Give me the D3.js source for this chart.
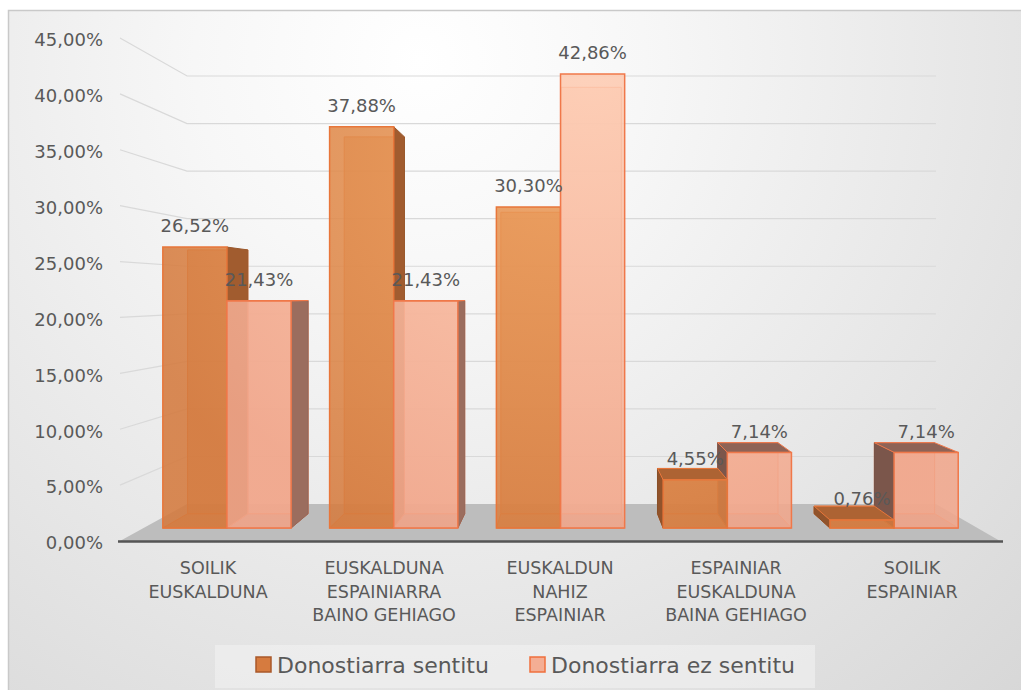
<!DOCTYPE html>
<html>
<head>
<meta charset="utf-8">
<script src="https://cdn.jsdelivr.net/npm/d3@7"></script>
<style>
body { margin: 0; background: #fff; }
text { font-family: "DejaVu Sans", sans-serif; fill: #595959; }
</style>
</head>
<body>
<div id="chart"></div>
<script>

const categoryLines = [
    ["SOILIK", "EUSKALDUNA"],
    ["EUSKALDUNA", "ESPAINIARRA", "BAINO GEHIAGO"],
    ["EUSKALDUN", "NAHIZ", "ESPAINIAR"],
    ["ESPAINIAR", "EUSKALDUNA", "BAINA GEHIAGO"],
    ["SOILIK", "ESPAINIAR"]
];
const categories = categoryLines.map(d => d.join(' '));
const seriesNames = ["Donostiarra sentitu", "Donostiarra ez sentitu"];
const sentitu = [26.52, 37.88, 30.30, 4.55, 0.76];
const ezSentitu = [21.43, 21.43, 42.86, 7.14, 7.14];
const yTicks = [0, 5, 10, 15, 20, 25, 30, 35, 40, 45];

const W = 1021, H = 690;

// fake 3d: vanishing point + depth scale factors
const vp = [570, 293];
const sWall = 0.851, sFront = 0.9476, sBack = 0.89;
function P(X, Y, s) { return [vp[0] + (X - vp[0]) * s, vp[1] + (Y - vp[1]) * s]; }

const pct = v => d3.format(".2f")(v).replace('.', ',') + '%';

const svg = d3.select('#chart')
    .append('svg')
    .attr('width', W)
    .attr('height', H);

const defs = svg.append('defs');

const bg = defs.append('radialGradient').attr('id', 'bg')
    .attr('gradientUnits', 'userSpaceOnUse')
    .attr('cx', 420).attr('cy', 60).attr('r', 900);
bg.append('stop').attr('offset', 0).attr('stop-color', '#ffffff');
bg.append('stop').attr('offset', 0.25).attr('stop-color', '#f7f7f7');
bg.append('stop').attr('offset', 1).attr('stop-color', '#d6d6d6');

const gOr = defs.append('radialGradient').attr('id', 'gOr')
    .attr('gradientUnits', 'userSpaceOnUse')
    .attr('cx', 560).attr('cy', 150).attr('r', 450);
gOr.append('stop').attr('offset', 0).attr('stop-color', '#ec9c5a');
gOr.append('stop').attr('offset', 1).attr('stop-color', '#d47a3e');

const gPk = defs.append('radialGradient').attr('id', 'gPk')
    .attr('gradientUnits', 'userSpaceOnUse')
    .attr('cx', 590).attr('cy', 60).attr('r', 500);
gPk.append('stop').attr('offset', 0).attr('stop-color', '#fecdb4');
gPk.append('stop').attr('offset', 1).attr('stop-color', '#f1a78c');

const seriesStyle = [
    {fill: 'url(#gOr)', base: '#d67b3f', edge: '#e8763a', right: 0.8, left: 1.1, legendFill: '#d67b3f', legendEdge: '#a9582a'},
    {fill: 'url(#gPk)', base: '#b07b6b', edge: '#f0784a', right: 0.35, left: 1.0, legendFill: '#f4ae94', legendEdge: '#ef6f3c'}
];

// background + frame
svg.append('rect')
    .attr('x', 8.5).attr('y', 10.5)
    .attr('width', W + 20).attr('height', H + 20)
    .attr('fill', 'url(#bg)')
    .attr('stroke', '#c9c9c9')
    .attr('stroke-width', 1.5);

// scales
const x0 = d3.scaleBand()
    .domain(categories)
    .range([120, 1000]);

const x1 = d3.scaleBand()
    .domain(seriesNames)
    .range([0, x0.bandwidth()])
    .paddingOuter(0.3);

const y = d3.scaleLinear()
    .domain([0, 45])
    .range([541, 38]);

// gridlines on left wall + back wall
const line = d3.line();
svg.selectAll('.grid')
    .data(yTicks.filter(t => t > 0))
    .enter().append('path')
    .attr('class', 'grid')
    .attr('d', t => line([P(120, y(t), 1), P(120, y(t), sWall), P(1000, y(t), sWall)]))
    .attr('fill', 'none')
    .attr('stroke', '#d9d9d9')
    .attr('stroke-width', 1.2);

// floor
svg.append('path')
    .attr('d', line([P(120, y(0), 1), P(1000, y(0), 1), P(1000, y(0), sWall), P(120, y(0), sWall)]) + 'Z')
    .attr('fill', '#bdbdbd');

svg.append('line')
    .attr('x1', 118).attr('x2', 1003)
    .attr('y1', y(0) + 0.5).attr('y2', y(0) + 0.5)
    .attr('stroke', '#555')
    .attr('stroke-width', 2.5);

// y axis labels
svg.selectAll('.ytick')
    .data(yTicks)
    .enter().append('text')
    .attr('class', 'ytick')
    .attr('x', 103)
    .attr('y', t => y(t) + 2)
    .attr('dy', '.35em')
    .attr('text-anchor', 'end')
    .style('font-size', '18px')
    .text(t => pct(t));

// category labels
const cat = svg.selectAll('.cat')
    .data(categoryLines)
    .enter().append('text')
    .attr('class', 'cat')
    .attr('text-anchor', 'middle')
    .style('font-size', '17.5px');
cat.selectAll('tspan')
    .data((d, i) => d.map(l => ({l: l, i: i})))
    .enter().append('tspan')
    .attr('x', d => x0(categories[d.i]) + x0.bandwidth() / 2)
    .attr('y', (d, k) => 568 + k * 23.5)
    .attr('dy', '.35em')
    .text(d => d.l);

// bars
const bars = [];
categories.forEach((c, i) => {
    [sentitu, ezSentitu].forEach((vals, j) => {
        const xl = x0(c) + x1(seriesNames[j]);
        bars.push({i: i, j: j, value: vals[i], xl: xl, xr: xl + x1.bandwidth()});
    });
});
bars.sort((a, b) => Math.abs((b.xl + b.xr) / 2 - vp[0]) - Math.abs((a.xl + a.xr) / 2 - vp[0]));

const poly = pts => line(pts) + 'Z';

bars.forEach(b => {
    const st = seriesStyle[b.j];
    const yb = y(0), yt = y(b.value);
    const fbl = P(b.xl, yb, sFront), fbr = P(b.xr, yb, sFront),
          ftl = P(b.xl, yt, sFront), ftr = P(b.xr, yt, sFront),
          bbl = P(b.xl, yb, sBack), bbr = P(b.xr, yb, sBack),
          btl = P(b.xl, yt, sBack), btr = P(b.xr, yt, sBack);
    const g = svg.append('g').attr('class', 'bar');

    g.append('path').attr('d', poly([fbl, fbr, bbr, bbl]))
        .attr('fill', st.base).attr('fill-opacity', 0.5)
        .attr('stroke', st.edge).attr('stroke-width', 1);
    g.append('path').attr('d', poly([bbl, bbr, btr, btl]))
        .attr('fill', st.fill).attr('fill-opacity', 0.6)
        .attr('stroke', st.edge).attr('stroke-width', 1);

    if (b.xr < vp[0]) {
        g.append('path').attr('d', poly([fbr, bbr, btr, ftr]))
            .attr('fill', d3.color(st.base).darker(st.right))
            .attr('stroke', d3.color(st.base).darker(st.right + 0.15)).attr('stroke-width', 1);
    }
    if (b.xl > vp[0]) {
        g.append('path').attr('d', poly([fbl, bbl, btl, ftl]))
            .attr('fill', d3.color(st.base).darker(st.left))
            .attr('stroke', d3.color(st.base).darker(st.left + 0.15)).attr('stroke-width', 1);
    }
    if (yt > vp[1]) {
        g.append('path').attr('d', poly([ftl, ftr, btr, btl]))
            .attr('fill', d3.color(st.base).darker(0.6))
            .attr('stroke', st.edge).attr('stroke-width', 1);
    }
    g.append('path').attr('d', poly([fbl, fbr, ftr, ftl]))
        .attr('fill', st.fill).attr('fill-opacity', 0.88)
        .attr('stroke', st.edge).attr('stroke-width', 1.5);
});

// value labels
svg.selectAll('.label')
    .data(bars)
    .enter().append('text')
    .attr('class', 'label')
    .attr('x', d => P((d.xl + d.xr) / 2, y(d.value), sFront)[0])
    .attr('y', d => P((d.xl + d.xr) / 2, y(d.value), sFront)[1] - 21)
    .attr('dy', '.35em')
    .attr('text-anchor', 'middle')
    .style('font-size', '18px')
    .text(d => pct(d.value));

// legend
svg.append('rect')
    .attr('x', 215).attr('y', 645)
    .attr('width', 600).attr('height', 43)
    .attr('fill', '#f2f2f2')
    .attr('fill-opacity', 0.6);

const legendX = [256, 530];
const leg = svg.selectAll('.legend')
    .data(seriesNames)
    .enter().append('g')
    .attr('class', 'legend')
    .attr('transform', (d, i) => `translate(${legendX[i]},657)`);

leg.append('rect')
    .attr('width', 15).attr('height', 15)
    .attr('fill', (d, i) => seriesStyle[i].legendFill)
    .attr('stroke', (d, i) => seriesStyle[i].legendEdge)
    .attr('stroke-width', 1.5);

leg.append('text')
    .attr('x', 21)
    .attr('y', 8)
    .attr('dy', '.35em')
    .style('font-size', '22px')
    .text(d => d);

</script>
</body>
</html>
